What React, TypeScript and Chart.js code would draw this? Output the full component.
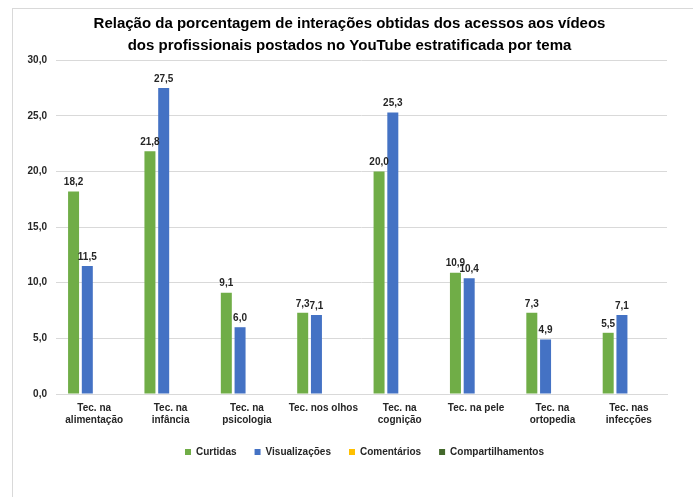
import React, { useEffect, useRef } from "react";
import { Chart, registerables } from "chart.js";

Chart.register(...registerables);

const categories: string[][] = [
  ["Tec. na", "alimentação"],
  ["Tec. na", "infância"],
  ["Tec. na", "psicologia"],
  ["Tec. nos olhos"],
  ["Tec. na", "cognição"],
  ["Tec. na pele"],
  ["Tec. na", "ortopedia"],
  ["Tec. nas", "infecções"],
];

const curtidas = [18.2, 21.8, 9.1, 7.3, 20.0, 10.9, 7.3, 5.5];
const visualizacoes = [11.5, 27.5, 6.0, 7.1, 25.3, 10.4, 4.9, 7.1];
const comentarios = [0, 0, 0, 0, 0, 0, 0, 0];
const compartilhamentos = [0, 0, 0, 0, 0, 0, 0, 0];

const yTicks = [0, 5, 10, 15, 20, 25, 30];

const FONT = "'Liberation Sans', Arial, sans-serif";
const fmt = (v: number) => v.toFixed(1).replace(".", ",");

const frame = {
  id: "frame",
  beforeDraw(chart: any) {
    const ctx = chart.ctx;
    ctx.save();
    ctx.fillStyle = "#ffffff";
    ctx.fillRect(0, 0, chart.width, chart.height);
    ctx.strokeStyle = "#d9d9d9";
    ctx.lineWidth = 1;
    ctx.strokeRect(12.5, 8.5, 800, 600);
    ctx.restore();
  },
};

// Shift title and legend blocks horizontally to match the original centring
const shiftBlocks = {
  id: "shiftBlocks",
  afterLayout(chart: any) {
    if (chart.titleBlock) {
      chart.titleBlock.left += 8;
      chart.titleBlock.right += 8;
    }
    if (chart.legend) {
      chart.legend.left += 23;
      chart.legend.right += 23;
    }
  },
};

const valueLabels = {
  id: "valueLabels",
  afterDatasetsDraw(chart: any) {
    const ctx = chart.ctx;
    ctx.save();
    ctx.font = `bold 10px ${FONT}`;
    ctx.fillStyle = "#262626";
    ctx.textAlign = "center";
    ctx.textBaseline = "bottom";
    [0, 1].forEach((di) => {
      const meta = chart.getDatasetMeta(di);
      const data = chart.data.datasets[di].data as number[];
      meta.data.forEach((el: any, i: number) => {
        ctx.fillText(fmt(data[i]), el.x, el.y - 4);
      });
    });
    ctx.restore();
  },
};

export default function App() {
  const ref = useRef<HTMLCanvasElement>(null);
  useEffect(() => {
    const chart = new Chart(ref.current!, {
      type: "bar",
      data: {
        labels: categories,
        datasets: [
          { label: "Curtidas", data: curtidas, backgroundColor: "#70AD47" },
          { label: "Visualizações", data: visualizacoes, backgroundColor: "#4472C4" },
          { label: "Comentários", data: comentarios, backgroundColor: "#FFC000" },
          { label: "Compartilhamentos", data: compartilhamentos, backgroundColor: "#43682B" },
        ],
      },
      options: {
        animation: false,
        responsive: false,
        layout: { padding: { left: 16, right: 26, top: 13, bottom: 30 } },
        datasets: {
          bar: { barPercentage: 0.8, categoryPercentage: 0.72 },
        },
        plugins: {
          tooltip: { enabled: false },
          title: {
            display: true,
            text: [
              "Relação da porcentagem de interações obtidas dos acessos aos vídeos",
              "dos profissionais postados no YouTube estratificada por tema",
            ],
            font: { family: FONT, size: 15, weight: "bold", lineHeight: 1.47 },
            color: "#000000",
            padding: { top: 0, bottom: 3 },
          },
          legend: {
            position: "bottom",
            labels: {
              font: { family: FONT, size: 10, weight: "bold" },
              color: "#262626",
              usePointStyle: true,
              pointStyle: "rect",
              boxWidth: 6,
              boxHeight: 6,
              padding: 18,
            },
          },
        },
        scales: {
          x: {
            grid: { display: false, drawTicks: false },
            border: { display: true, color: "#d9d9d9" },
            ticks: {
              font: { family: FONT, size: 10, weight: "bold" },
              color: "#262626",
              padding: 8,
              maxRotation: 0,
              autoSkip: false,
            },
            afterFit: (s: any) => { s.height = 35; },
          },
          y: {
            min: 0,
            max: 30,
            afterBuildTicks: (s: any) => { s.ticks = yTicks.map((v) => ({ value: v })); },
            grid: { color: "#d9d9d9", drawTicks: false },
            border: { display: false },
            ticks: {
              font: { family: FONT, size: 10, weight: "bold" },
              color: "#262626",
              padding: 9,
              callback: (v: any) => fmt(Number(v)),
            },
            afterFit: (s: any) => { s.width = 40; },
          },
        },
      },
      plugins: [frame, shiftBlocks, valueLabels],
    });
    return () => chart.destroy();
  }, []);
  return (
    <div style={{ position: "fixed", left: 0, top: 0, width: 693, height: 497 }}>
      <canvas ref={ref} width={693} height={497} style={{ display: "block" }} />
    </div>
  );
}
